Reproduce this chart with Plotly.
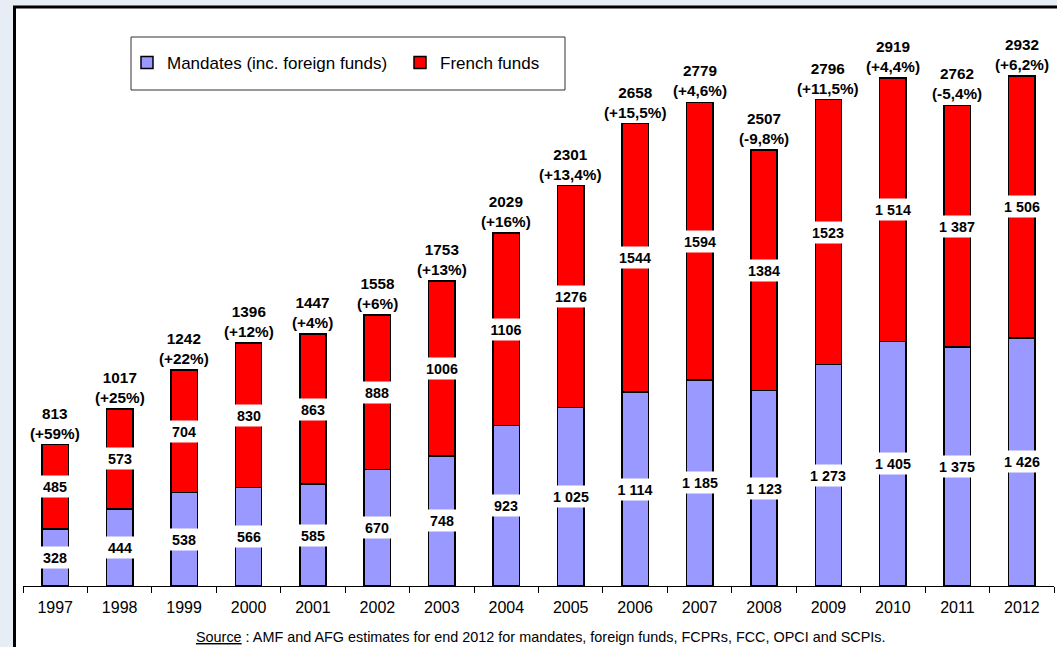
import plotly.graph_objects as go

years = ["1997", "1998", "1999", "2000", "2001", "2002", "2003", "2004",
         "2005", "2006", "2007", "2008", "2009", "2010", "2011", "2012"]
mandates = [328, 444, 538, 566, 585, 670, 748, 923, 1025, 1114, 1185, 1123, 1273, 1405, 1375, 1426]
french = [485, 573, 704, 830, 863, 888, 1006, 1106, 1276, 1544, 1594, 1384, 1523, 1514, 1387, 1506]
totals = [813, 1017, 1242, 1396, 1447, 1558, 1753, 2029, 2301, 2658, 2779, 2507, 2796, 2919, 2762, 2932]
changes = ["+59%", "+25%", "+22%", "+12%", "+4%", "+6%", "+13%", "+16%", "+13,4%", "+15,5%",
           "+4,6%", "-9,8%", "+11,5%", "+4,4%", "-5,4%", "+6,2%"]
mandate_labels = ["328", "444", "538", "566", "585", "670", "748", "923", "1 025", "1 114",
                  "1 185", "1 123", "1 273", "1 405", "1 375", "1 426"]
french_labels = ["485", "573", "704", "830", "863", "888", "1006", "1106", "1276", "1544",
                 "1594", "1384", "1523", "1 514", "1 387", "1 506"]
source_text = "<u>Source</u> : AMF and AFG estimates for end 2012 for mandates, foreign funds, FCPRs, FCC, OPCI and SCPIs."

W, H = 1057, 647
ML, MR, MT, MB = 23, 3, 16, 61
YMAX = 3276
FONT = "Liberation Sans, Arial, sans-serif"

fig = go.Figure()
fig.add_trace(go.Bar(x=years, y=mandates, name="Mandates (inc. foreign funds)",
                     marker=dict(color="#9999FF", line=dict(color="black", width=1.5))))
fig.add_trace(go.Bar(x=years, y=french, name="French funds",
                     marker=dict(color="#FF0000", line=dict(color="black", width=1.5))))

for i, yr in enumerate(years):
    fig.add_annotation(xref="x", yref="y", x=i, y=mandates[i] / 2,
                       text="<b>%s</b>" % mandate_labels[i],
                       showarrow=False, bgcolor="white", width=42, height=19, borderpad=1,
                       font=dict(size=14.3, color="black", family=FONT))
    fig.add_annotation(xref="x", yref="y", x=i, y=mandates[i] + french[i] / 2,
                       text="<b>%s</b>" % french_labels[i],
                       showarrow=False, bgcolor="white", width=42, height=19, borderpad=1,
                       font=dict(size=14.3, color="black", family=FONT))
    fig.add_annotation(xref="x", yref="y", x=i, y=totals[i],
                       text="<b>%d<br>(%s)</b>" % (totals[i], changes[i]),
                       showarrow=False, yanchor="bottom", yshift=1,
                       font=dict(size=15.3, color="black", family=FONT))

pw = W - ML - MR
ph = H - MT - MB
def px_x(p):
    return (p - ML) / pw
def px_y(p):
    return 1 - (p - MT) / ph

fig.add_annotation(xref="paper", yref="paper", x=px_x(540), y=px_y(637), text=source_text,
                   showarrow=False, xanchor="center", yanchor="middle",
                   font=dict(size=14.4, color="black", family=FONT))

fig.add_shape(type="rect", xref="paper", yref="paper", layer="below",
              x0=px_x(14.5), x1=px_x(1070), y0=px_y(660), y1=px_y(7),
              fillcolor="white", line=dict(color="black", width=3))
fig.add_shape(type="rect", xref="paper", yref="paper", layer="above",
              x0=px_x(131), x1=px_x(565), y0=px_y(90), y1=px_y(37),
              fillcolor="rgba(0,0,0,0)", line=dict(color="#333333", width=1))

fig.update_layout(
    width=W, height=H,
    margin=dict(l=ML, r=MR, t=MT, b=MB),
    barmode="stack", bargap=0.59,
    paper_bgcolor="#e6edf4", plot_bgcolor="white",
    font=dict(family=FONT, color="black"),
    showlegend=True,
    legend=dict(orientation="h", x=px_x(127), y=px_y(63), xanchor="left", yanchor="middle",
                bgcolor="rgba(0,0,0,0)", borderwidth=0, traceorder="normal",
                entrywidth=228, entrywidthmode="pixels",
                font=dict(size=17, family=FONT, color="black"), itemwidth=30),
    xaxis=dict(type="category", range=[-0.5, 15.5], showline=True, linecolor="black", linewidth=1,
               ticks="outside", tickson="boundaries", ticklen=6, tickcolor="black",
               ticklabelstandoff=7,
               tickfont=dict(size=16, family=FONT, color="black"), showgrid=False, zeroline=False),
    yaxis=dict(range=[0, YMAX], showgrid=False, zeroline=False, showticklabels=False,
               showline=False, ticks=""),
)

fig.write_html("out.html", config={"displayModeBar": False},
               post_script="document.body.style.margin='0';document.body.style.overflow='hidden';")
